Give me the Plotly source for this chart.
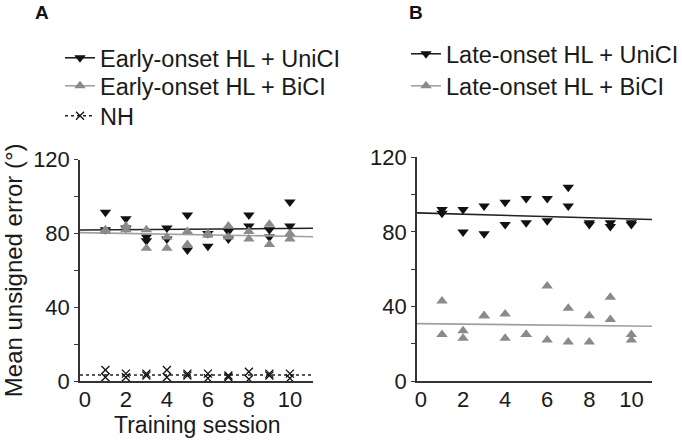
import plotly.graph_objects as go

# ---- data ----
sessions = [1, 2, 3, 4, 5, 6, 7, 8, 9, 10]

# Panel A: early-onset hearing loss (two subjects per group per session)
a_uni_1 = [91.5, 88, 78, 83, 90, 73, 81, 90, 82, 97]
a_uni_2 = [82, 83, 76, 77, 71, 80, 77, 84, 78, 84]
a_bi_1 = [82, 84, 82, 78, 81, 80, 84, 81, 85, 80]
a_bi_2 = [81, 82, 72, 72, 74, 79, 78, 77, 74, 77]
nh_1 = [6, 4, 4, 6, 4, 4, 3, 5, 4, 4]
nh_2 = [2, 2, 3, 2, 3, 1.5, 2, 1, 3, 1.5]

# Panel B: late-onset hearing loss
b_uni_1 = [92, 92, 94, 96, 98, 98, 104, 85, 85, 85]
b_uni_2 = [90, 80, 79, 84, 85, 86, 94, 84, 83, 84]
b_bi_1 = [43, 27, 35, 36, 25, 51, 39, 35, 45, 25]
b_bi_2 = [25, 23, 35, 23, 25, 22, 21, 21, 33, 22]

# linear trend lines: (intercept, slope)
trend_a_uni = (81.9, 0.08)
trend_a_bi = (80.4, -0.195)
trend_nh = (3.3, 0.0)
trend_b_uni = (90.2, -0.32)
trend_b_bi = (30.8, -0.125)

xr_a = [-0.24, 11.13]
xr_b = [-0.19, 10.98]

x_ticks = [0, 2, 4, 6, 8, 10]
y_tick_vals = [0, 20, 40, 60, 80, 100, 120]
y_tick_text = ["0", "", "40", "", "80", "", "120"]

labels_a = ["Early-onset HL + UniCI", "Early-onset HL + BiCI", "NH"]
labels_b = ["Late-onset HL + UniCI", "Late-onset HL + BiCI"]
x_title = "Training session"
y_title = "Mean unsigned error (°)"

BLACK = "#111111"
GRAY = "#8a8a8a"
GRAY_LINE = "#a0a0a0"
FONT = "Liberation Sans, Arial, sans-serif"
FS = 23

fig = go.Figure()


def trend_xy(tr, xr):
    b0, b1 = tr
    return xr, [b0 + b1 * xr[0], b0 + b1 * xr[1]]


def add_group(xa, ya, ys, color, linecolor, symbol, trend, xr, name, legend, dash="solid", msize=10, xline=False):
    tx, ty = trend_xy(trend, xr)
    fig.add_trace(go.Scatter(x=tx, y=ty, mode="lines", xaxis=xa, yaxis=ya,
                             line=dict(color=linecolor, width=1.6, dash=dash),
                             showlegend=False, hoverinfo="skip"))
    marker = dict(symbol=symbol, color=color, size=msize)
    if xline:
        marker["line"] = dict(color=color, width=1.3)
    for y in ys:
        fig.add_trace(go.Scatter(x=sessions, y=y, mode="markers", xaxis=xa, yaxis=ya,
                                 marker=marker, showlegend=False))
    # legend entry
    fig.add_trace(go.Scatter(x=[None], y=[None], mode="lines+markers", xaxis=xa, yaxis=ya,
                             line=dict(color=linecolor, width=1.6, dash=dash),
                             marker=marker, name=name, legend=legend, showlegend=True))


add_group("x", "y", [a_uni_1, a_uni_2], BLACK, "#222222", "triangle-down", trend_a_uni, xr_a, labels_a[0], "legend")
add_group("x", "y", [a_bi_1, a_bi_2], GRAY, GRAY_LINE, "triangle-up", trend_a_bi, xr_a, labels_a[1], "legend3")
add_group("x", "y", [nh_1, nh_2], BLACK, "#222222", "x-thin", trend_nh, xr_a, labels_a[2], "legend4", dash="dot", msize=8, xline=True)

add_group("x2", "y2", [b_uni_1, b_uni_2], BLACK, "#222222", "triangle-down", trend_b_uni, xr_b, labels_b[0], "legend2")
add_group("x2", "y2", [b_bi_1, b_bi_2], GRAY, GRAY_LINE, "triangle-up", trend_b_bi, xr_b, labels_b[1], "legend5")

axis_common = dict(showgrid=False, zeroline=False, showline=True, linecolor="#333333", linewidth=1.5,
                   automargin=False,
                   tickfont=dict(size=FS - 1, color="#1a1a1a", family=FONT))


def legend_at(xpx, top_px):
    return dict(x=xpx / 682, y=1 - top_px / 441, xanchor="left", yanchor="top",
                font=dict(size=23.5, family=FONT, color="#1a1a1a"),
                bgcolor="rgba(0,0,0,0)", tracegroupgap=0, itemwidth=30)


fig.update_layout(
    width=682, height=441,
    margin=dict(l=0, r=0, t=0, b=0, autoexpand=False),
    paper_bgcolor="white", plot_bgcolor="white",
    font=dict(family=FONT, color="#1a1a1a"),
    xaxis=dict(domain=[0.1173, 0.459], range=xr_a, tickvals=x_ticks, ticks="", anchor="y",
               ticklabelstandoff=-2, **axis_common),
    yaxis=dict(domain=[0.136, 0.638], range=[0, 120], tickvals=y_tick_vals, ticktext=y_tick_text,
               ticks="outside", ticklen=4, tickcolor="#333333", anchor="x",
               title=dict(text=y_title, font=dict(size=24), standoff=5), **axis_common),
    xaxis2=dict(domain=[0.6114, 0.956], range=xr_b, tickvals=x_ticks, ticks="", anchor="y2",
                ticklabelstandoff=-2, **axis_common),
    yaxis2=dict(domain=[0.136, 0.643], range=[0, 120], tickvals=y_tick_vals, ticktext=y_tick_text,
                ticks="outside", ticklen=4, tickcolor="#333333", anchor="x2", **axis_common),
    legend=legend_at(60, 36),
    legend3=legend_at(60, 64),
    legend4=legend_at(60, 94),
    legend2=legend_at(406, 32),
    legend5=legend_at(406, 64),
    annotations=[
        dict(text="<b>A</b>", x=42 / 682, y=1 - 13 / 441, xref="paper", yref="paper", showarrow=False,
             font=dict(size=19, family=FONT, color="#111111"), xanchor="center", yanchor="middle"),
        dict(text="<b>B</b>", x=416 / 682, y=1 - 13 / 441, xref="paper", yref="paper", showarrow=False,
             font=dict(size=19, family=FONT, color="#111111"), xanchor="center", yanchor="middle"),
        dict(text=x_title, x=197 / 682, y=1 - 425 / 441, xref="paper", yref="paper", showarrow=False,
             font=dict(size=FS, family=FONT, color="#1a1a1a"), xanchor="center", yanchor="middle"),
    ],
)

fig.write_html("out.html", config={"displayModeBar": False},
               post_script="document.body.style.margin='0px';")
